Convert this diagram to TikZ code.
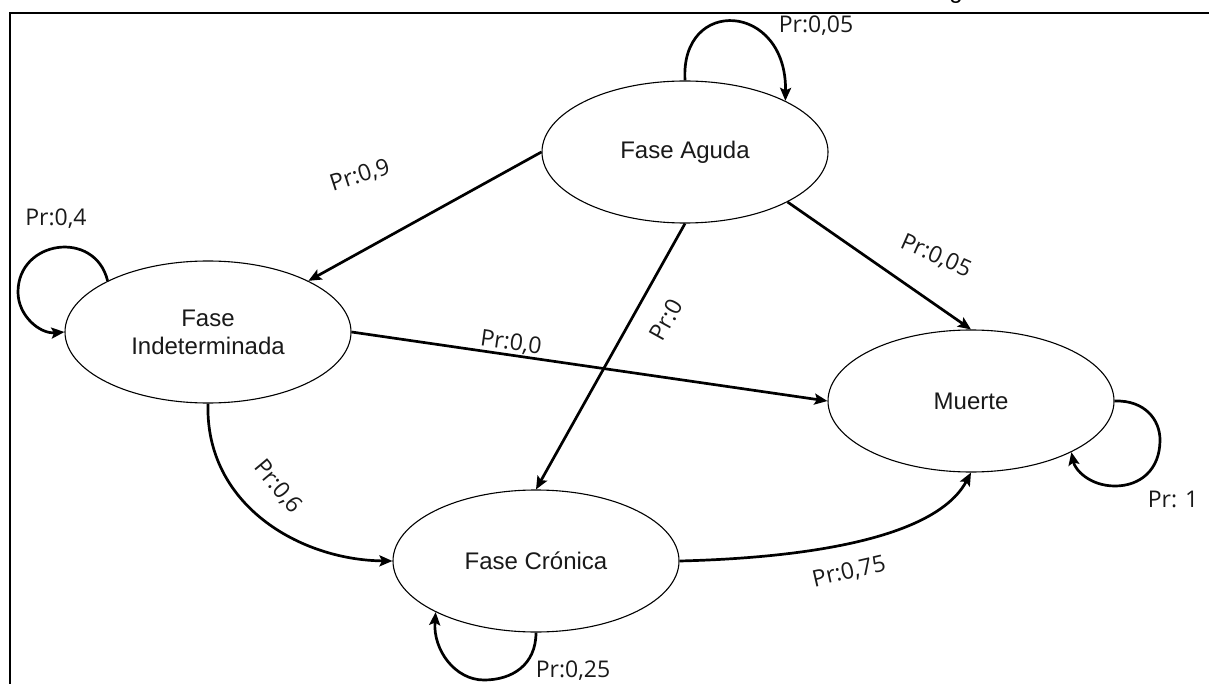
\documentclass[tikz,border=0pt]{standalone}
\usepackage{fontspec}
\setmainfont{Liberation Sans}
\newfontfamily\labelfont{Open Sans}
\usetikzlibrary{shapes.geometric,arrows.meta}
\begin{document}
\begin{tikzpicture}[x=1pt,y=-1pt,
  state/.style={ellipse,draw,line width=1.1pt,minimum width=286pt,minimum height=142pt,
    inner sep=0pt,align=center,font=\fontsize{24}{28}\selectfont,text=black!90},
  arr/.style={line width=2.7pt,-{Stealth[length=13pt,width=11pt,inset=2.5pt]}},
  prob/.style={font=\labelfont\fontsize{23}{27}\selectfont,inner sep=0pt,text=black!90},
  frame/.style={line width=2pt},
]
\useasboundingbox (0,0) rectangle (1209,684);

% frame and the cut caption above it
\begin{scope}
  \clip (0,0) rectangle (1209,684);
  \node[anchor=base,inner sep=0pt,font=\fontsize{24}{28}\selectfont] (capg) at (956,-1) {g};
  \coordinate (fbl) at (10,684);
  \coordinate (ftl) at (10,13);
  \coordinate (ftr) at (1209,13);
  \draw[frame] (fbl) -- (ftl) -- (ftr);
\end{scope}

% states
\node[state] (ag)  at (685,152) {Fase Aguda};
\node[state] (ind) at (208,332) {Fase\\Indeterminada};
\node[state] (cr)  at (536,561) {Fase Crónica};
\node[state] (mu)  at (971,401) {Muerte};

% transitions
\draw[arr] (ag.west) -- (ind.27);
\draw[arr] (ag.-26) -- (mu.north);
\draw[arr] (ag.south) -- (cr.north);
\draw[arr] (ind.east) -- (mu.west);
\draw[arr] (ind.south) .. controls (205,505) and (300,560) .. (cr.west);
\draw[arr] (cr.east) .. controls (800,558) and (935,540) .. (mu.south);

% self loops
\draw[arr] (ag.north) .. controls (680,-4) and (787,2) .. (ag.27);
\draw[arr] (ind.153) .. controls (95,229) and (18,240) .. (18,292)
                     .. controls (18,316) and (40,334) .. (ind.west);
\draw[arr] (cr.south) .. controls (536,665) and (512,680) .. (484,680)
                      .. controls (455,680) and (433,650) .. (cr.207);
\draw[arr] (mu.east) .. controls (1145,400) and (1160,420) .. (1160,440)
                     .. controls (1160,470) and (1140,486) .. (1115,486)
                     .. controls (1090,486) and (1075,470) .. (mu.-27);

% probabilities
\node[prob] (p1) at (816,26) {Pr:0,05};
\node[prob] (p2) at (56,219) {Pr:0,4};
\node[prob,rotate=18] (p3) at (360,176) {Pr:0,9};
\node[prob,rotate=-24] (p4) at (936,256) {Pr:0,05};
\node[prob,rotate=61] (p5) at (666,320) {Pr:0};
\node[prob,rotate=-8] (p6) at (511,343) {Pr:0,0};
\node[prob,rotate=-50] (p7) at (278,487) {Pr:0,6};
\node[prob,rotate=13] (p8) at (849,572) {Pr:0,75};
\node[prob] (p9) at (573,671) {Pr:0,25};
\node[prob] (p10) at (1173,499) {Pr: 1};
\end{tikzpicture}
\end{document}
